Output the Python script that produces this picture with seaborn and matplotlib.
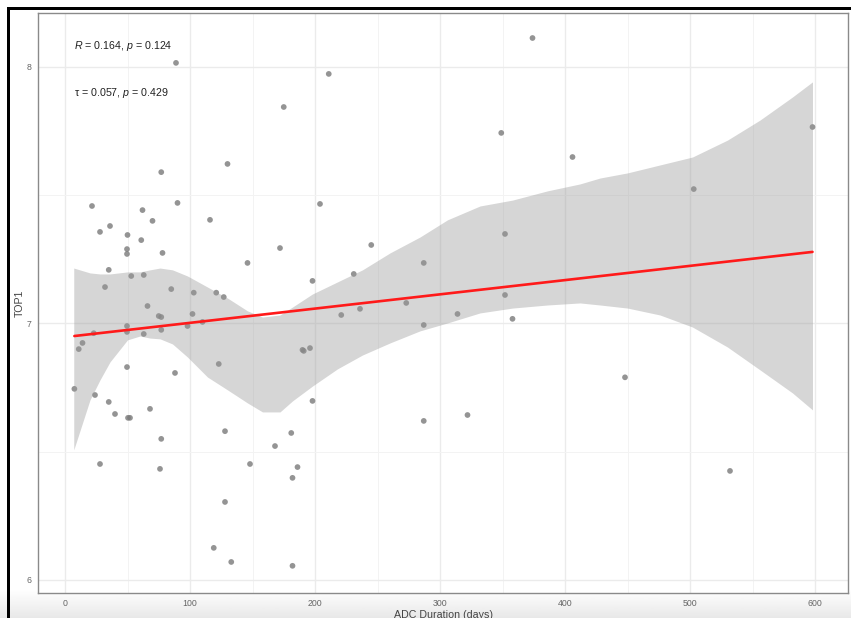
import numpy as np
import pandas as pd
import matplotlib
matplotlib.use("Agg")
import matplotlib.pyplot as plt
from matplotlib.patches import Rectangle
import seaborn as sns

# ---- observations: ADC duration (days) vs TOP1 expression ----
duration = [88.8, 374, 211, 175, 349, 406, 77, 130, 598, 503,
            21.6, 90, 62, 70, 36, 28, 50, 116, 61, 49.6,
            49.6, 78, 172, 146, 35, 53, 63, 32, 85, 103,
            121, 127, 66, 75, 77, 102, 49.6, 49.6, 63, 77,
            98, 110, 23, 14, 11, 49.6, 88, 123, 7.5, 24,
            35, 68, 40, 50.4, 52, 77, 128, 181, 168, 28,
            76, 148, 186, 182, 128, 119, 133, 182, 204, 245,
            198, 231, 287, 352, 236, 221, 273, 352, 314, 358,
            287, 190, 191, 196, 198, 287, 322, 448, 532]
top1 = [8.016, 8.113, 7.973, 7.844, 7.743, 7.649, 7.590, 7.622, 7.766, 7.524,
        7.458, 7.470, 7.442, 7.400, 7.380, 7.357, 7.345, 7.404, 7.325, 7.290,
        7.271, 7.275, 7.294, 7.236, 7.209, 7.185, 7.189, 7.142, 7.134, 7.120,
        7.120, 7.103, 7.068, 7.029, 7.025, 7.037, 6.990, 6.967, 6.959, 6.975,
        6.990, 7.006, 6.962, 6.924, 6.900, 6.830, 6.807, 6.842, 6.745, 6.721,
        6.694, 6.667, 6.647, 6.632, 6.632, 6.550, 6.580, 6.573, 6.522, 6.452,
        6.433, 6.452, 6.440, 6.398, 6.304, 6.125, 6.070, 6.055, 7.466, 7.306,
        7.166, 7.193, 7.236, 7.349, 7.057, 7.033, 7.080, 7.111, 7.037, 7.018,
        6.994, 6.897, 6.893, 6.904, 6.698, 6.620, 6.643, 6.790, 6.425]

# ---- smoother confidence band ----
band_x = [7, 20, 28, 36, 50, 60, 68, 76, 86, 98, 114, 130, 146, 158, 172, 182,
          198, 218, 238, 260, 284, 306, 332, 358, 386, 412, 428, 450, 476, 502,
          530, 556, 582, 598]
band_hi = [7.216, 7.197, 7.193, 7.193, 7.201, 7.201, 7.209, 7.216, 7.209, 7.185,
           7.142, 7.099, 7.049, 7.025, 7.033, 7.064, 7.115, 7.162, 7.209, 7.275,
           7.337, 7.404, 7.458, 7.481, 7.517, 7.544, 7.567, 7.587, 7.618, 7.649,
           7.715, 7.793, 7.883, 7.942]
band_lo = [6.507, 6.702, 6.780, 6.850, 6.936, 6.951, 6.943, 6.940, 6.920, 6.869,
           6.791, 6.741, 6.690, 6.655, 6.655, 6.698, 6.756, 6.823, 6.877, 6.924,
           6.971, 7.002, 7.041, 7.060, 7.072, 7.080, 7.072, 7.060, 7.033, 6.986,
           6.908, 6.819, 6.729, 6.663]

# ---- linear trend ----
trend_x = [7.5, 598]
trend_y = [6.951, 7.279]

x_ticks = [0, 100, 200, 300, 400, 500, 600]
y_ticks = [6, 7, 8]
stat_r = "$R$ = 0.164, $p$ = 0.124"
stat_tau = "τ = 0.057, $p$ = 0.429"

sns.set_style("white")
plt.rcParams["font.family"] = ["Liberation Sans", "DejaVu Sans"]
plt.rcParams["mathtext.fontset"] = "custom"
plt.rcParams["mathtext.rm"] = "Liberation Sans"
plt.rcParams["mathtext.it"] = "Liberation Sans:italic"

W, H = 851, 618
fig = plt.figure(figsize=(W / 100, H / 100), dpi=100)
fig.patch.set_facecolor("white")

# soft grey strip along the bottom edge
bg = fig.add_axes([0, 0, 1, 28 / H], zorder=-5)
grad = np.linspace(0.91, 1.0, 50).reshape(-1, 1)
bg.imshow(grad, cmap="gray", vmin=0, vmax=1, aspect="auto", extent=[0, 1, 0, 1], origin="lower")
bg.set_axis_off()

# panel
left, right, top, bottom = 38, 848, 13, 593
ax = fig.add_axes([left / W, 1 - bottom / H, (right - left) / W, (bottom - top) / H])
ax.set_facecolor("white")
ax.patch.set_alpha(1)

df = pd.DataFrame({"duration": duration, "top1": top1})
sns.scatterplot(data=df, x="duration", y="top1", color="#7a7a7a", alpha=0.8,
                s=17, edgecolor="none", ax=ax, zorder=3)
ax.fill_between(band_x, band_lo, band_hi, color="#999999", alpha=0.4, lw=0, zorder=4)
sns.lineplot(x=trend_x, y=trend_y, color="#ff1a1a", lw=1.9, ax=ax, zorder=5)

ax.set_xlim(-21.6, 626.4)
ax.set_ylim(5.949, 8.2105)
ax.set_xticks(x_ticks)
ax.set_yticks(y_ticks)
ax.set_xticks([50, 150, 250, 350, 450, 550], minor=True)
ax.set_yticks([6.5, 7.5], minor=True)
ax.grid(which="major", color="#ebebeb", lw=1.0, zorder=0)
ax.grid(which="minor", color="#f3f3f3", lw=0.7, zorder=0)
ax.set_axisbelow(True)
ax.tick_params(which="major", length=2.5, width=0.8, color="#777777",
               labelsize=6.3, labelcolor="#666666", pad=2)
ax.tick_params(which="minor", length=0)
for sp in ax.spines.values():
    sp.set_color("#8a8a8a")
    sp.set_linewidth(1.0)

ax.set_xlabel("ADC Duration (days)", fontsize=7.7, color="#444444", labelpad=1)
ax.set_ylabel("TOP1", fontsize=7.7, color="#444444", labelpad=1.5)

ax.text(7.2, 8.082, stat_r, fontsize=7.7, color="#222222", ha="left", va="center")
ax.text(7.2, 7.899, stat_tau, fontsize=7.7, color="#222222", ha="left", va="center")

# black frame on the left and top edges
fig.add_artist(Rectangle((7 / W, 0), 3 / W, 1 - 7 / H, transform=fig.transFigure,
                         color="black", lw=0, zorder=10))
fig.add_artist(Rectangle((7 / W, 1 - 10 / H), 1 - 7 / W, 3 / H, transform=fig.transFigure,
                         color="black", lw=0, zorder=10))

fig.savefig("out.png", dpi=100)
